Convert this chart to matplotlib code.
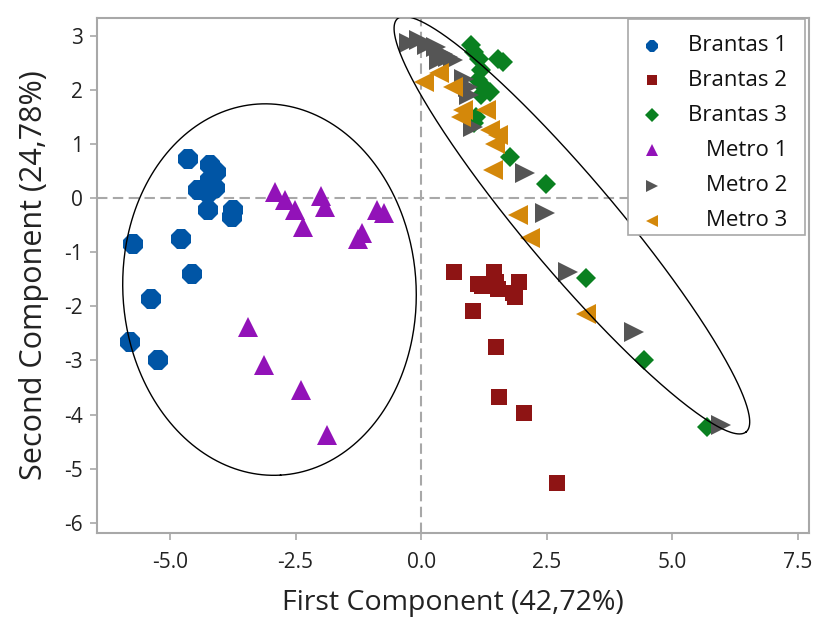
import numpy as np
import matplotlib
matplotlib.use("Agg")
import matplotlib.pyplot as plt
from matplotlib.patches import Rectangle

plt.rcParams['font.family'] = ['Open Sans', 'DejaVu Sans']
plt.rcParams['axes.unicode_minus'] = False

# ---- data ----
groups = ["Brantas 1", "Brantas 2", "Brantas 3", "Metro 1", "Metro 2", "Metro 3"]

brantas1_x = [-4.64, -4.21, -4.08, -4.21, -4.44, -4.11, -4.24, -4.24, -3.74, -3.77,
              -5.74, -4.79, -4.56, -5.37, -5.79, -5.23]
brantas1_y = [0.72, 0.61, 0.49, 0.33, 0.15, 0.18, 0.09, -0.22, -0.22, -0.35,
              -0.85, -0.75, -1.40, -1.87, -2.66, -2.99]

brantas2_x = [0.66, 1.13, 1.22, 1.45, 1.49, 1.53, 1.95, 1.82, 1.86, 1.03, 1.49, 1.54, 2.05, 2.70]
brantas2_y = [-1.36, -1.58, -1.62, -1.36, -1.55, -1.68, -1.55, -1.75, -1.82, -2.08,
              -2.76, -3.67, -3.98, -5.27]

brantas3_x = [0.99, 1.06, 1.16, 1.53, 1.63, 1.19, 1.13, 1.26, 1.36, 1.19, 1.09, 1.06,
              1.76, 2.49, 3.29, 4.44, 5.69]
brantas3_y = [2.83, 2.70, 2.58, 2.58, 2.52, 2.37, 2.18, 2.06, 1.97, 1.90, 1.50, 1.38,
              0.76, 0.27, -1.47, -2.99, -4.23]

metro1_x = [-2.92, -2.71, -2.52, -2.36, -1.99, -1.92, -0.87, -0.74, -1.17, -1.25,
            -3.45, -3.13, -2.39, -1.87]
metro1_y = [0.12, -0.04, -0.22, -0.53, 0.04, -0.17, -0.22, -0.27, -0.65, -0.75,
            -2.38, -3.09, -3.55, -4.38]

metro2_x = [-0.24, -0.04, 0.12, 0.29, 0.43, 0.53, 0.63, 0.36, 0.86, 0.93, 0.96, 1.03,
            2.06, 2.46, 2.93, 4.23, 5.96]
metro2_y = [2.86, 2.92, 2.83, 2.80, 2.67, 2.61, 2.55, 2.55, 2.21, 2.06, 1.90, 1.32,
            0.46, -0.28, -1.36, -2.47, -4.19]

metro3_x = [0.06, 0.36, 0.63, 0.83, 0.79, 1.29, 1.36, 1.53, 1.46, 1.43, 1.93, 2.16, 3.29]
metro3_y = [2.15, 2.31, 2.06, 1.63, 1.50, 1.63, 1.26, 1.17, 1.01, 0.52, -0.31, -0.73, -2.14]

x_ticks = [-5.0, -2.5, 0.0, 2.5, 5.0, 7.5]
x_tick_labels = ["-5.0", "-2.5", "0.0", "2.5", "5.0", "7.5"]
y_ticks = [-6, -5, -4, -3, -2, -1, 0, 1, 2, 3]

# ellipse definitions (center, two conjugate semi-axis vectors) in data units
ell_left = dict(c=(-3.02, -1.69), a=(0.22, -3.43), b=(2.914, 0.159))
ell_right = dict(c=(3.0, -0.5), a=(3.47, -3.82), b=(0.70, 0.547))

colors = ["#0055a5", "#8e1414", "#0a8020", "#9212b8", "#555555", "#d4880a"]
markers = ["8", "s", "D", "^", ">", "<"]
msizes = [15, 12, 10.5, 14, 14, 14]

series = [(brantas1_x, brantas1_y), (brantas2_x, brantas2_y), (brantas3_x, brantas3_y),
          (metro1_x, metro1_y), (metro2_x, metro2_y), (metro3_x, metro3_y)]

# ---- figure ----
fig = plt.figure(figsize=(8.16, 6.21), dpi=100)
ax = fig.add_axes([0.1185, 0.1417, 0.8729, 0.8293])

ax.axhline(0, color="#a8a8a8", lw=1.5, ls=(0, (5, 2.6)), zorder=1)
ax.axvline(0, color="#a8a8a8", lw=1.5, ls=(0, (5, 2.6)), zorder=1)

for (xs, ys), col, mk, ms in zip(series, colors, markers, msizes):
    ax.plot(xs, ys, ls="none", marker=mk, color=col, markersize=ms,
            markeredgewidth=0, zorder=3)

t = np.linspace(0, 2 * np.pi, 400)
for e in (ell_left, ell_right):
    ex = e["c"][0] + e["a"][0] * np.cos(t) + e["b"][0] * np.sin(t)
    ey = e["c"][1] + e["a"][1] * np.cos(t) + e["b"][1] * np.sin(t)
    ax.plot(ex, ey, color="black", lw=1.0, zorder=4)

ax.set_xlim(-6.46, 7.72)
ax.set_ylim(-6.19, 3.33)
ax.set_xticks(x_ticks)
ax.set_xticklabels(x_tick_labels)
ax.set_yticks(y_ticks)

for sp in ax.spines.values():
    sp.set_color("#a8a8a8")
    sp.set_linewidth(1.5)
ax.tick_params(axis="both", colors="#a8a8a8", length=5, width=1.2,
               labelsize=15, labelcolor="#222222")
ax.tick_params(axis="x", pad=9)
ax.tick_params(axis="y", pad=5)

ax.set_xlabel("First Component (42,72%)", fontsize=20.5, color="#222222", labelpad=11)
ax.set_ylabel("Second Component (24,78%)", fontsize=22, color="#222222", labelpad=11)

# ---- legend (right aligned labels, Minitab style) ----
ax.add_patch(Rectangle((0.746, 0.579), 0.248, 0.419, transform=ax.transAxes,
                       facecolor="white", edgecolor="#a8a8a8", lw=1.2, zorder=5))
row_y = [0.946, 0.879, 0.811, 0.743, 0.674, 0.606]
leg_ms = [9, 7.5, 7, 8.5, 8.5, 8.5]
for name, col, mk, ms, yy in zip(groups, colors, markers, leg_ms, row_y):
    ax.plot([0.780], [yy], transform=ax.transAxes, marker=mk, color=col,
            markersize=ms, markeredgewidth=0, ls="none", zorder=6, clip_on=False)
    ax.text(0.969, yy, name, transform=ax.transAxes, ha="right", va="center",
            fontsize=16, color="#111111", zorder=6)

fig.savefig("out.png", dpi=100)
